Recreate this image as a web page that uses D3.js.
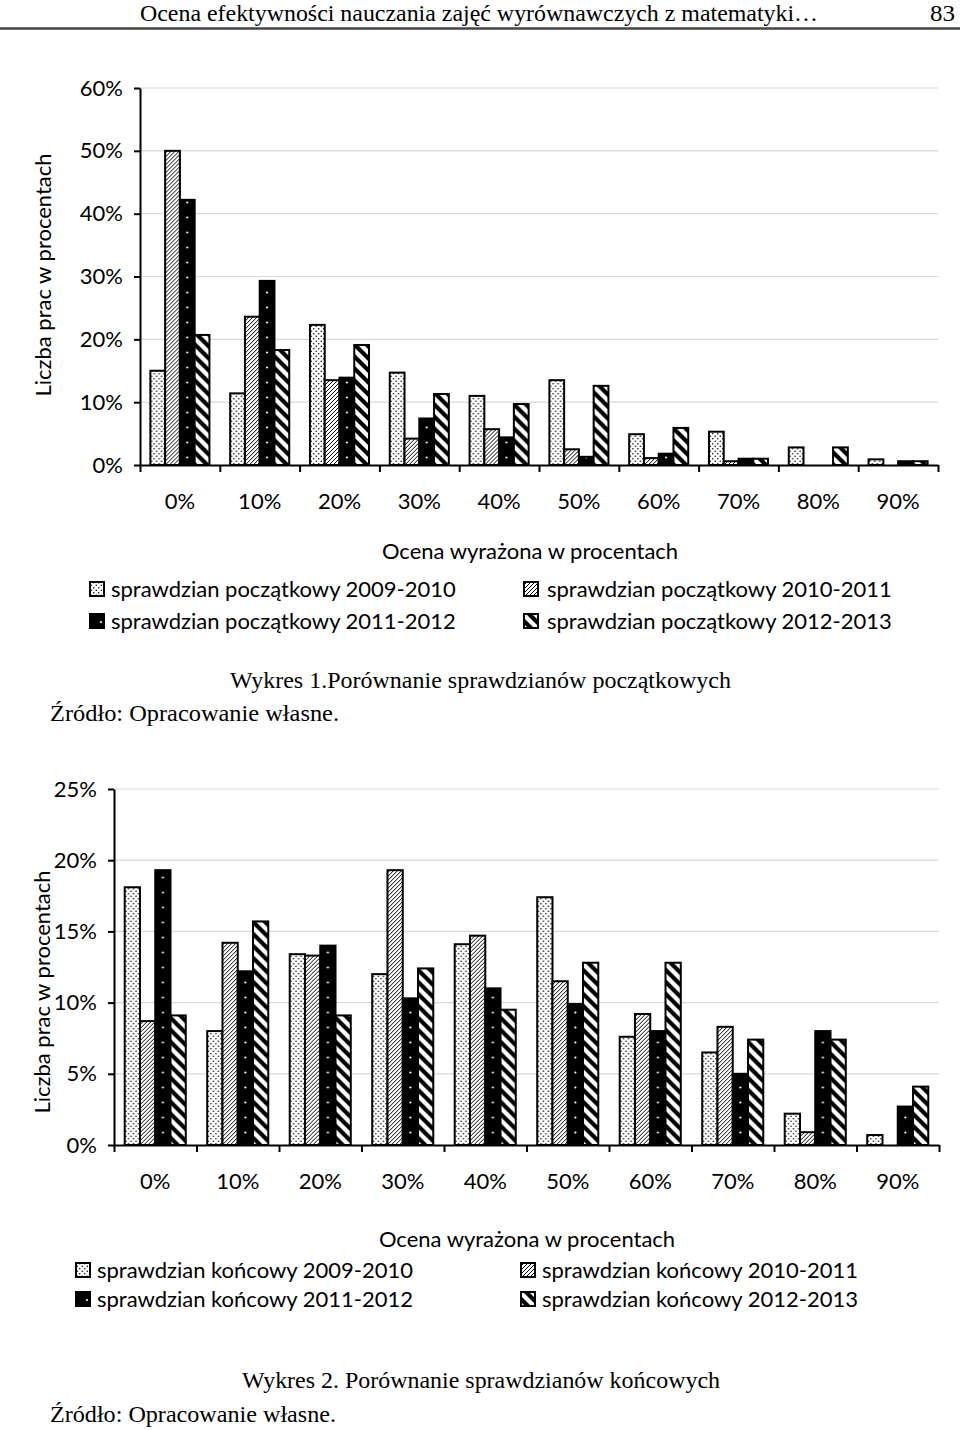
<!DOCTYPE html>
<html><head><meta charset="utf-8">
<script src="https://cdn.jsdelivr.net/npm/d3@7"></script>
<style>body{margin:0;background:#fff} svg{display:block}</style>
</head><body>
<svg id="c" width="960" height="1430"></svg>
<script>
// ---------- data ----------
const categories = ["0%","10%","20%","30%","40%","50%","60%","70%","80%","90%"];
const seriesKeys = ["2009-2010","2010-2011","2011-2012","2012-2013"];
const yTicks1 = [0,10,20,30,40,50,60];
const yTicks2 = [0,5,10,15,20,25];
const legend1 = ["sprawdzian początkowy 2009-2010","sprawdzian początkowy 2010-2011","sprawdzian początkowy 2011-2012","sprawdzian początkowy 2012-2013"];
const legend2 = ["sprawdzian końcowy 2009-2010","sprawdzian końcowy 2010-2011","sprawdzian końcowy 2011-2012","sprawdzian końcowy 2012-2013"];
const initial2009 = [15.0, 11.4, 22.3, 14.7, 11.0, 13.5, 4.9, 5.3, 2.8, 0.9];
const initial2010 = [50.0, 23.6, 13.5, 4.2, 5.7, 2.5, 1.1, 0.6, 0, 0];
const initial2011 = [42.2, 29.3, 13.9, 7.4, 4.4, 1.3, 1.8, 1.0, 0, 0.6];
const initial2012 = [20.7, 18.3, 19.1, 11.3, 9.7, 12.6, 5.9, 1.0, 2.8, 0.6];
const final2009 = [18.1, 8.0, 13.4, 12.0, 14.1, 17.4, 7.6, 6.5, 2.2, 0.7];
const final2010 = [8.7, 14.2, 13.3, 19.3, 14.7, 11.5, 9.2, 8.3, 0.9, 0];
const final2011 = [19.3, 12.2, 14.0, 10.3, 11.0, 9.9, 8.0, 5.0, 8.0, 2.7];
const final2012 = [9.1, 15.7, 9.1, 12.4, 9.5, 12.8, 12.8, 7.4, 7.4, 4.1];
const headerText = "Ocena efektywności nauczania zajęć wyrównawczych z matematyki…";
const pageNumber = "83";
const yTitle = "Liczba prac w procentach";
const xTitle = "Ocena wyrażona w procentach";
const caption1 = "Wykres 1.Porównanie sprawdzianów początkowych";
const caption2 = "Wykres 2. Porównanie sprawdzianów końcowych";
const sourceText = "Źródło: Opracowanie własne.";

// ---------- setup ----------
const svg = d3.select("#c");
const FONT = "Lato, 'Open Sans', sans-serif";
const FS = 22;
const SERIF = "'Liberation Serif', 'DejaVu Serif', serif";
const defs = svg.append("defs");

// dotted
const pd = defs.append("pattern").attr("id","p-dots").attr("patternUnits","userSpaceOnUse").attr("width",5).attr("height",5);
pd.append("rect").attr("width",5).attr("height",5).attr("fill","#fff");
pd.append("circle").attr("cx",1.25).attr("cy",1.25).attr("r",0.75).attr("fill","#000");
pd.append("circle").attr("cx",3.75).attr("cy",3.75).attr("r",0.75).attr("fill","#000");
// fine hatch "/"
const ph = defs.append("pattern").attr("id","p-hatch").attr("patternUnits","userSpaceOnUse").attr("width",4).attr("height",4);
ph.append("rect").attr("width",4).attr("height",4).attr("fill","#fff");
ph.append("path").attr("d","M-1,1 L1,-1 M0,4 L4,0 M3,5 L5,3").attr("stroke","#000").attr("stroke-width",1);
// wide diagonal "\"
const pw = defs.append("pattern").attr("id","p-diag").attr("patternUnits","userSpaceOnUse").attr("width",12).attr("height",12);
pw.append("rect").attr("width",12).attr("height",12).attr("fill","#fff");
pw.append("path").attr("d","M0,0 L12,12 M-6,6 L6,18 M6,-6 L18,6").attr("stroke","#000").attr("stroke-width",4.2);

// header
svg.append("text").attr("x",140).attr("y",21).attr("font-family",SERIF).attr("font-size",23)
  .attr("textLength",678).attr("lengthAdjust","spacingAndGlyphs").text(headerText);
svg.append("text").attr("x",930).attr("y",21).attr("font-family",SERIF).attr("font-size",23)
  .attr("textLength",25).attr("lengthAdjust","spacingAndGlyphs").text(pageNumber);
svg.append("line").attr("x1",0).attr("x2",960).attr("y1",28.5).attr("y2",28.5).attr("stroke","#444").attr("stroke-width",2.5);

function drawChart(cfg) {
  const g = svg.append("g");
  const x0 = d3.scaleBand().domain(categories).range([cfg.left, cfg.right]).paddingInner(0.26).paddingOuter(0.13);
  const x1 = d3.scaleBand().domain(seriesKeys).range([0, x0.bandwidth()]);
  const xb = d3.scaleLinear().domain([0, categories.length]).range([cfg.left, cfg.right]);
  const y = d3.scaleLinear().domain([0, d3.max(cfg.ticks)]).range([cfg.bottom, cfg.top]);

  // black-with-white-dots pattern, dots centred in the black bar
  const pid = "p-black-" + cfg.id;
  const pb = defs.append("pattern").attr("id",pid).attr("patternUnits","userSpaceOnUse")
    .attr("width", x0.step()).attr("height",15);
  pb.append("rect").attr("width", x0.step()).attr("height",15).attr("fill","#000");
  pb.append("circle").attr("cx", x1(seriesKeys[2]) + x1.bandwidth()/2).attr("cy",7.5).attr("r",1.1).attr("fill","#fff");
  const fills = ["url(#p-dots)","url(#p-hatch)","url(#"+pid+")","url(#p-diag)"];

  // gridlines
  g.append("g").selectAll("line").data(cfg.ticks.filter(d => d > 0)).join("line")
    .attr("x1", cfg.left).attr("x2", cfg.right)
    .attr("y1", d => y(d)).attr("y2", d => y(d))
    .attr("stroke","#d9d9d9").attr("stroke-width",1.2);

  // bars
  const rows = categories.map((c,i) => ({cat:c, values: seriesKeys.map((k,j) => ({key:k, j, v: cfg.series[j][i]}))}));
  g.append("g").selectAll("g").data(rows).join("g")
    .attr("transform", d => `translate(${x0(d.cat)},0)`)
    .selectAll("rect").data(d => d.values).join("rect")
    .attr("x", d => x1(d.key)).attr("width", x1.bandwidth())
    .attr("y", d => y(d.v)).attr("height", d => y(0) - y(d.v))
    .attr("fill", d => fills[d.j]).attr("stroke","#000").attr("stroke-width",2);

  // y axis
  const ya = g.append("g").attr("transform",`translate(${cfg.left},0)`)
    .call(d3.axisLeft(y).tickValues(cfg.ticks).tickSize(6).tickSizeOuter(0).tickPadding(11).tickFormat(d => d + "%"));
  ya.select(".domain").attr("stroke","#000").attr("stroke-width",2);
  ya.selectAll(".tick line").attr("stroke","#000").attr("stroke-width",2);
  ya.selectAll("text").attr("font-family",FONT).attr("font-size",FS).attr("fill","#000");

  // x axis: boundary ticks
  const xa = g.append("g").attr("transform",`translate(0,${cfg.bottom})`)
    .call(d3.axisBottom(xb).tickValues(d3.range(0, categories.length + 1)).tickSize(7).tickSizeOuter(0).tickFormat(""));
  xa.select(".domain").attr("stroke","#000").attr("stroke-width",2);
  xa.selectAll(".tick line").attr("stroke","#000").attr("stroke-width",2);
  // x labels centred in categories
  const xl = g.append("g").attr("transform",`translate(0,${cfg.bottom})`)
    .call(d3.axisBottom(x0).tickSize(0).tickPadding(28));
  xl.select(".domain").remove();
  xl.selectAll("text").attr("font-family",FONT).attr("font-size",FS).attr("fill","#000");

  // y title
  g.append("text").attr("transform",`translate(${cfg.yTitleX},${cfg.yTitleY}) rotate(-90)`)
    .attr("text-anchor","middle").attr("dy","0.35em").attr("font-family",FONT).attr("font-size",FS).text(yTitle);
  // x title
  g.append("text").attr("x", cfg.xTitleX).attr("y", cfg.xTitleY).attr("text-anchor","middle")
    .attr("dy","0.35em").attr("font-family",FONT).attr("font-size",FS).text(xTitle);

  // legend
  const lg = g.append("g");
  const items = lg.selectAll("g").data(cfg.legend).join("g")
    .attr("transform", (d,i) => `translate(${cfg.legCols[i % 2]},${cfg.legRows[Math.floor(i / 2)]})`);
  items.append("rect").attr("x",0).attr("y",-7).attr("width",14).attr("height",14)
    .attr("fill", (d,i) => fills[i]).attr("stroke","#000").attr("stroke-width",2);
  items.filter((d,i) => i === 2).append("circle").attr("cx",11).attr("cy",1).attr("r",1.1).attr("fill","#fff");
  items.append("text").attr("x", (d,i) => cfg.legTextDx[i % 2]).attr("y",0).attr("dy","0.35em")
    .attr("font-family",FONT).attr("font-size",FS).text(d => d);

  // caption + source
  svg.append("text").attr("x", cfg.capX).attr("y", cfg.capY).attr("font-family",SERIF).attr("font-size",23)
    .attr("textLength", cfg.capLen).attr("lengthAdjust","spacingAndGlyphs").text(cfg.caption);
  svg.append("text").attr("x", 50).attr("y", cfg.srcY).attr("font-family",SERIF).attr("font-size",23)
    .attr("textLength", cfg.srcLen).attr("lengthAdjust","spacingAndGlyphs").text(sourceText);
}

drawChart({
  id: 1, left: 140, right: 938, top: 88, bottom: 465, ticks: yTicks1,
  series: [initial2009, initial2010, initial2011, initial2012],
  yTitleX: 43, yTitleY: 275, xTitleX: 530, xTitleY: 551,
  legend: legend1, legCols: [90, 524], legRows: [589, 621], legTextDx: [21, 23],
  caption: caption1, capX: 230, capY: 688, capLen: 501, srcY: 721, srcLen: 289
});
drawChart({
  id: 2, left: 114, right: 939, top: 789, bottom: 1145, ticks: yTicks2,
  series: [final2009, final2010, final2011, final2012],
  yTitleX: 42, yTitleY: 992, xTitleX: 527, xTitleY: 1239,
  legend: legend2, legCols: [76, 521], legRows: [1270, 1299], legTextDx: [21, 21],
  caption: caption2, capX: 242, capY: 1388, capLen: 478, srcY: 1422, srcLen: 286
});
</script>
</body></html>
